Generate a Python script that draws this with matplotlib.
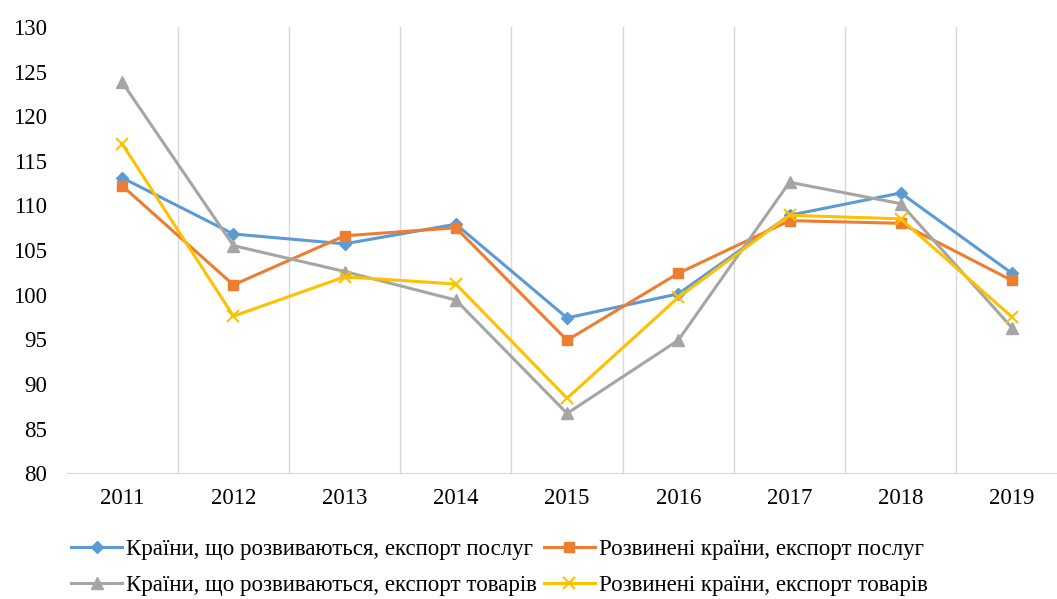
import matplotlib
matplotlib.use("Agg")
import matplotlib.pyplot as plt
import numpy as np

years = ["2011", "2012", "2013", "2014", "2015", "2016", "2017", "2018", "2019"]
dev_services = [113.1, 106.8, 105.7, 107.9, 97.4, 100.1, 108.9, 111.4, 102.4]
adv_services = [112.2, 101.1, 106.6, 107.5, 94.9, 102.4, 108.3, 108.0, 101.6]
dev_goods = [123.8, 105.5, 102.6, 99.4, 86.7, 94.9, 112.6, 110.2, 96.3]
adv_goods = [116.9, 97.6, 102.0, 101.2, 88.4, 99.7, 108.9, 108.5, 97.5]
labels = ["Країни, що розвиваються, експорт послуг",
          "Розвинені країни, експорт послуг",
          "Країни, що розвиваються, експорт товарів",
          "Розвинені країни, експорт товарів"]

plt.rcParams['font.family'] = ['Liberation Serif', 'DejaVu Serif']

fig = plt.figure(figsize=(10.57, 5.99), dpi=100)
ax = fig.add_axes([0.063, 0.21, 0.947, 0.745])
x = np.arange(len(years))

h0, = ax.plot(x, dev_services, color='#5B9BD5', marker='D', markersize=6, lw=2.2, label=labels[0])
h1, = ax.plot(x, adv_services, color='#ED7D31', marker='s', markersize=7, lw=2.2, label=labels[1])
h2, = ax.plot(x, dev_goods, color='#A5A5A5', marker='^', markersize=8, lw=2.2, label=labels[2])
h3, = ax.plot(x, adv_goods, color='#FFC000', marker='x', markersize=8, mew=1.5, lw=2.2, label=labels[3])

ax.set_xlim(-0.5, len(years) - 0.5)
ax.set_ylim(80, 130)
ax.set_yticks(np.arange(80, 131, 5))
ax.set_xticks(x)
ax.set_xticklabels(years)
for b in np.arange(0.5, len(years) - 0.5, 1):
    ax.axvline(b, color='#D9D9D9', lw=1, zorder=0)
for s in ['top', 'right', 'left']:
    ax.spines[s].set_visible(False)
ax.spines['bottom'].set_color('#D9D9D9')
ax.tick_params(axis='both', length=0, labelsize=16.5)
ax.tick_params(axis='x', pad=11)
ax.tick_params(axis='y', pad=14)

leg = fig.legend([h0, h2, h1, h3], [labels[0], labels[2], labels[1], labels[3]],
                 loc='lower left', bbox_to_anchor=(0.048, -0.03), ncol=2, frameon=False,
                 fontsize=16.5, handlelength=2.2, handletextpad=0.2, columnspacing=0.3,
                 labelspacing=0.65)

fig.savefig('out.png', dpi=100)
